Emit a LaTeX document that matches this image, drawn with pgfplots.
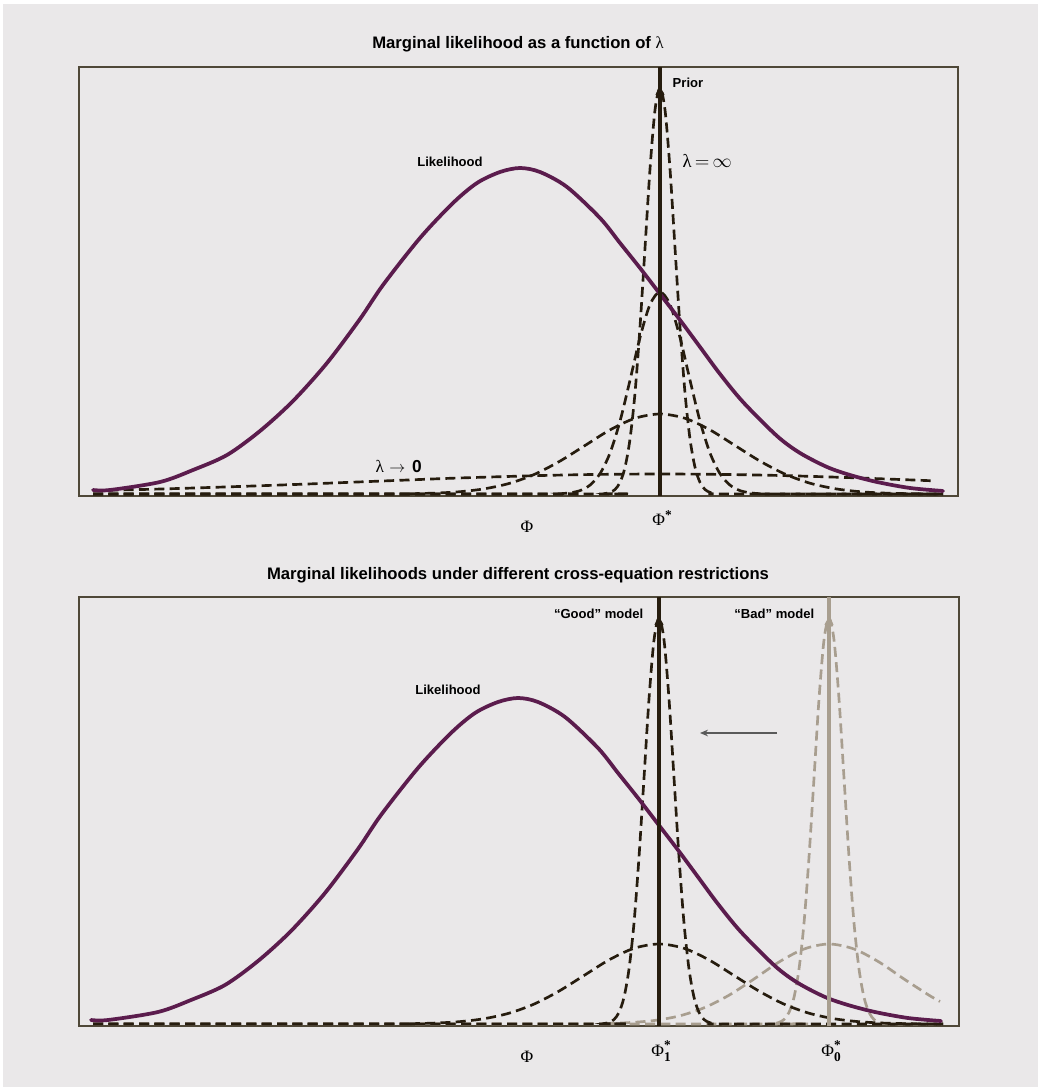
\documentclass[border=0pt]{standalone}
\usepackage{fontspec}
\setmainfont{Liberation Sans}
\newfontfamily\serif{Liberation Serif}
\usepackage{pgfplots}
\pgfplotsset{compat=1.18}
\usetikzlibrary{arrows.meta}
\definecolor{bgc}{HTML}{EAE8E9}
\definecolor{purp}{HTML}{5B1C4D}
\definecolor{darkc}{HTML}{261C0E}
\definecolor{grayc}{HTML}{A89E8F}
\definecolor{framec}{HTML}{4F4838}
\definecolor{arrc}{HTML}{5A5A5A}
\pgfplotsset{
  panel/.style={scale only axis, anchor=south west, height=321.75pt,
    ymin=0, ymax=429, xtick=\empty, ytick=\empty,
    axis line style={framec, line width=0.9pt}, clip=false,
    axis background/.style={fill=bgc}},
  dsh/.style={darkc, line width=2pt, dash pattern=on 7.5pt off 4pt},
  gdsh/.style={grayc, line width=2pt, dash pattern=on 7.5pt off 4pt},
  lik/.style={purp, line width=2.8pt, smooth, tension=0.5, line join=round, line cap=round},
}
\newcommand{\lab}{\bfseries\fontsize{9.8pt}{11pt}\selectfont}
\begin{document}
\begin{tikzpicture}
\fill[white] (0pt,0pt) rectangle (778.5pt,-815.25pt);
\fill[bgc] (2.25pt,-3pt) rectangle (778.5pt,-815.25pt);
\node[font=\bfseries\fontsize{12.5pt}{14pt}\selectfont] at (388.5pt,-33pt) {Marginal likelihood as a function of {\serif\mdseries λ}};
\begin{axis}[panel, at={(59.25pt,-372pt)}, width=659.25pt, xmin=79, xmax=958]
% lambda -> 0
\addplot[dsh, smooth] coordinates {(93,5.4)(150,6.7)(200,8.2)(250,9.9)(300,11.7)(350,13.7)(400,15.7)(450,17.7)(500,19.3)(550,20.7)(600,21.6)(660,22)(720,21.6)(780,20.5)(840,18.7)(900,16.5)(935,15.1)};
% wide
\addplot[dsh, smooth] coordinates {(93,2)(385,2)(410,2.3)(435,2.9)(460,4.3)(485,7.3)(510,12.8)(535,21.9)(560,34.9)(585,50.5)(610,66.1)(635,77.7)(660,82)(685,77.7)(710,66.1)(735,50.5)(760,34.9)(785,21.9)(810,12.8)(835,7.3)(860,4.3)(885,2.9)(910,2.3)(935,2)(943,2)};
% medium
\addplot[dsh, smooth] coordinates {(93,2)(550,2)(560,2.3)(570,3.2)(580,5.4)(590,10.9)(600,22.3)(610,43)(620,74.8)(630,115.8)(640,158.5)(650,191.5)(660,204)(670,191.5)(680,158.5)(690,115.8)(700,74.8)(710,43)(720,22.3)(730,10.9)(740,5.4)(750,3.2)(760,2.3)(770,2)(943,2)};
% narrow
\addplot[dsh, smooth] coordinates {(93,2)(595,2)(605,2.5)(610,3.6)(615,6.5)(620,13.6)(625,28.7)(630,57)(635,103)(640,169)(645,248)(650,327)(655,386)(660,408)(665,386)(670,327)(675,248)(680,169)(685,103)(690,57)(695,28.7)(700,13.6)(705,6.5)(710,3.6)(715,2.5)(725,2)(943,2)};
% likelihood
\addplot[lik] coordinates {(93,6)(110,6)(160,14)(193,26)(227,41)(260,65)(293,95)(327,133)(360,177)(383,211)(420,258)(453,293)(477,313)(500,324)(520,328)(540,324)(567,309)(600,278)(620,253)(640,228)(660,202)(680,176)(700,149)(720,122)(743,94)(777,60)(800,43)(827,29)(850,21)(877,14)(910,8)(943,5)};
% prior
\addplot[darkc, line width=3.2pt] coordinates {(660,0)(660,429)};
\addplot[darkc, only marks, mark=triangle*, mark size=3.6pt] coordinates {(660,404)};
\node[anchor=west, font=\lab] at (axis cs:668,413) {Prior};
\node[anchor=west, font=\fontsize{14pt}{16pt}\selectfont] at (axis cs:678,335) {{\serif λ}\,$=$\,$\infty$};
\node[font=\lab] at (axis cs:450,334) {Likelihood};
\node[anchor=west, font=\fontsize{13pt}{15pt}\selectfont] at (axis cs:371,30) {{\serif λ}\hspace{4pt}$\rightarrow$\hspace{5pt}\textbf{0}};
\node[font=\serif\fontsize{13pt}{15pt}\selectfont] at (axis cs:527,-31) {Φ};
\node[font=\serif\fontsize{13pt}{15pt}\selectfont] at (axis cs:662,-22) {Φ\raisebox{0.35em}{\bfseries\fontsize{10pt}{10pt}\selectfont *}};
\end{axis}
\node[font=\bfseries\fontsize{12.5pt}{14pt}\selectfont] at (388.5pt,-431.25pt) {Marginal likelihoods under different cross-equation restrictions};
\begin{axis}[panel, at={(59.25pt,-769.5pt)}, width=660pt, xmin=79, xmax=959]
% gray wide
\addplot[gdsh, smooth] coordinates {(93,2)(579,2.1)(604,2.5)(629,3.4)(654,5.5)(679,10)(704,18.2)(729,30.8)(754,47)(779,64)(804,77)(829,82)(854,77)(879,64)(904,47)(929,30.8)(940,24.5)};
% gray narrow
\addplot[gdsh, smooth] coordinates {(93,2)(764,2)(774,2.5)(779,3.6)(784,6.5)(789,13.6)(794,28.7)(799,57)(804,103)(809,169)(814,248)(819,327)(824,386)(829,408)(834,386)(839,327)(844,248)(849,169)(854,103)(859,57)(864,28.7)(869,13.6)(874,6.5)(879,3.6)(884,2.5)(894,2)(943,2)};
% black wide
\addplot[dsh, smooth] coordinates {(93,2)(384,2)(409,2.3)(434,2.9)(459,4.3)(484,7.3)(509,12.8)(534,21.9)(559,34.9)(584,50.5)(609,66.1)(634,77.7)(659,82)(684,77.7)(709,66.1)(734,50.5)(759,34.9)(784,21.9)(809,12.8)(834,7.3)(859,4.3)(884,2.9)(909,2.3)(934,2)(943,2)};
% black narrow
\addplot[dsh, smooth] coordinates {(93,2)(594,2)(604,2.5)(609,3.6)(614,6.5)(619,13.6)(624,28.7)(629,57)(634,103)(639,169)(644,248)(649,327)(654,386)(659,408)(664,386)(669,327)(674,248)(679,169)(684,103)(689,57)(694,28.7)(699,13.6)(704,6.5)(709,3.6)(714,2.5)(724,2)(943,2)};
% likelihood
\addplot[lik] coordinates {(91,6)(108,6)(158,14)(191,26)(225,41)(258,65)(291,95)(325,133)(358,177)(381,211)(418,258)(451,293)(475,313)(498,324)(518,328)(538,324)(565,309)(598,278)(618,253)(638,228)(658,202)(678,176)(698,149)(718,122)(741,94)(775,60)(798,43)(825,29)(848,21)(875,14)(908,8)(941,5)};
% model lines
\addplot[grayc, line width=3pt] coordinates {(829,0)(829,429)};
\addplot[grayc, only marks, mark=triangle*, mark size=3.6pt] coordinates {(829,404)};
\addplot[darkc, line width=3.2pt] coordinates {(659,0)(659,429)};
\addplot[darkc, only marks, mark=triangle*, mark size=3.6pt] coordinates {(659,404)};
\draw[arrc, line width=0.9pt, -{Stealth[length=6pt,width=5pt]}] (axis cs:777,293) -- (axis cs:700,293);
\node[anchor=east, font=\lab] at (axis cs:648,412) {“Good” model};
\node[anchor=east, font=\lab] at (axis cs:819,412) {“Bad” model};
\node[font=\lab] at (axis cs:448,336) {Likelihood};
\node[font=\serif\fontsize{13pt}{15pt}\selectfont] at (axis cs:527,-31) {Φ};
\node[font=\serif\fontsize{13pt}{15pt}\selectfont] at (axis cs:661,-25) {Φ\rlap{\raisebox{0.4em}{\bfseries\fontsize{10pt}{10pt}\selectfont *}}\raisebox{-0.3em}{\bfseries\fontsize{10pt}{10pt}\selectfont 1}};
\node[font=\serif\fontsize{13pt}{15pt}\selectfont] at (axis cs:831,-25) {Φ\rlap{\raisebox{0.4em}{\bfseries\fontsize{10pt}{10pt}\selectfont *}}\raisebox{-0.3em}{\bfseries\fontsize{10pt}{10pt}\selectfont 0}};
\end{axis}
\end{tikzpicture}
\end{document}
